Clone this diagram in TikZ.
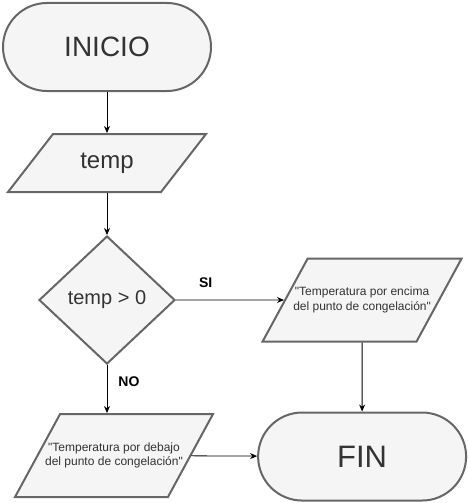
\documentclass[tikz,border=0pt]{standalone}
\usepackage{fontspec}
\setmainfont{Liberation Sans}[Ligatures=TeXOff]
\usetikzlibrary{arrows.meta,positioning,shapes.geometric,shapes.misc}
\definecolor{shapefill}{HTML}{F5F5F5}
\definecolor{shapeline}{HTML}{666666}
\definecolor{shapetext}{HTML}{333333}
\tikzset{
    base/.style = {
        draw = shapeline,
        fill = shapefill,
        text = shapetext,
        line width = 2pt,
        inner sep = 0pt,
        align = center,
        },
    terminal/.style = {
        base,
        rounded rectangle,
        minimum width = 208pt,
        minimum height = 88pt,
        },
    io/.style 2 args = {
        base,
        trapezium,
        trapezium stretches body,
        trapezium left angle = #1,
        trapezium right angle = 180-#1,
        text height = #2,
        text depth = 0pt,
        },
    io text/.style = {
        text = shapetext,
        align = center,
        inner sep = 0pt,
        },
    decision/.style = {
        base,
        diamond,
        minimum width = 136pt,
        minimum height = 128pt,
        },
    small text/.style = {
        io text,
        font = \fontsize{12}{14.4}\selectfont,
        },
    branch/.style = {
        font = \fontsize{14}{16}\selectfont\bfseries,
        inner sep = 0pt,
        anchor = south west,
        },
    flow/.style = {
        line width = 0.8pt,
        },
    node distance = 41pt,
}

\begin{document}
\begin{tikzpicture}[->, >={Stealth[length=7pt,width=6pt]}, x=1pt, y=-1pt]
            \useasboundingbox (0,0) rectangle (468,503);
            \node[terminal, font=\fontsize{28}{32}\selectfont] (inicio) at (107,47) {INICIO};
            \node[io={52.2}{58pt}, minimum width=198pt, below=of inicio,
                label={[io text, font=\fontsize{24}{28}\selectfont]center:temp}] (temp) {};
            \node[decision, font=\fontsize{20}{24}\selectfont, below=42pt of temp] (dec) {temp > 0};
            \node[io={61.5}{83pt}, minimum width=199pt, right=108pt of dec,
                label={[small text]center:{"Temperatura por encima\\del punto de congelación"}}] (yes) {};
            \node[terminal, font=\fontsize{31}{36}\selectfont, below=69pt of yes] (fin) {FIN};
            \node[io={61.5}{83pt}, minimum width=198pt, below=48pt of dec, xshift=7pt,
                label={[small text]center:{"Temperatura por debajo\\del punto de congelación"}}] (no) {};

            \path (inicio) edge[flow] (temp);
            \path (temp) edge[flow] (dec);
            \path (dec) edge[flow] node[branch, pos=0.21, yshift=12pt] {SI} (yes);
            \path (dec.south) edge[flow] node[branch, pos=0.46, xshift=11pt] {NO} (dec.south |- no.north);
            \path (yes) edge[flow] (fin);
            \path (no) edge[flow] (fin);
        \end{tikzpicture}
\end{document}
